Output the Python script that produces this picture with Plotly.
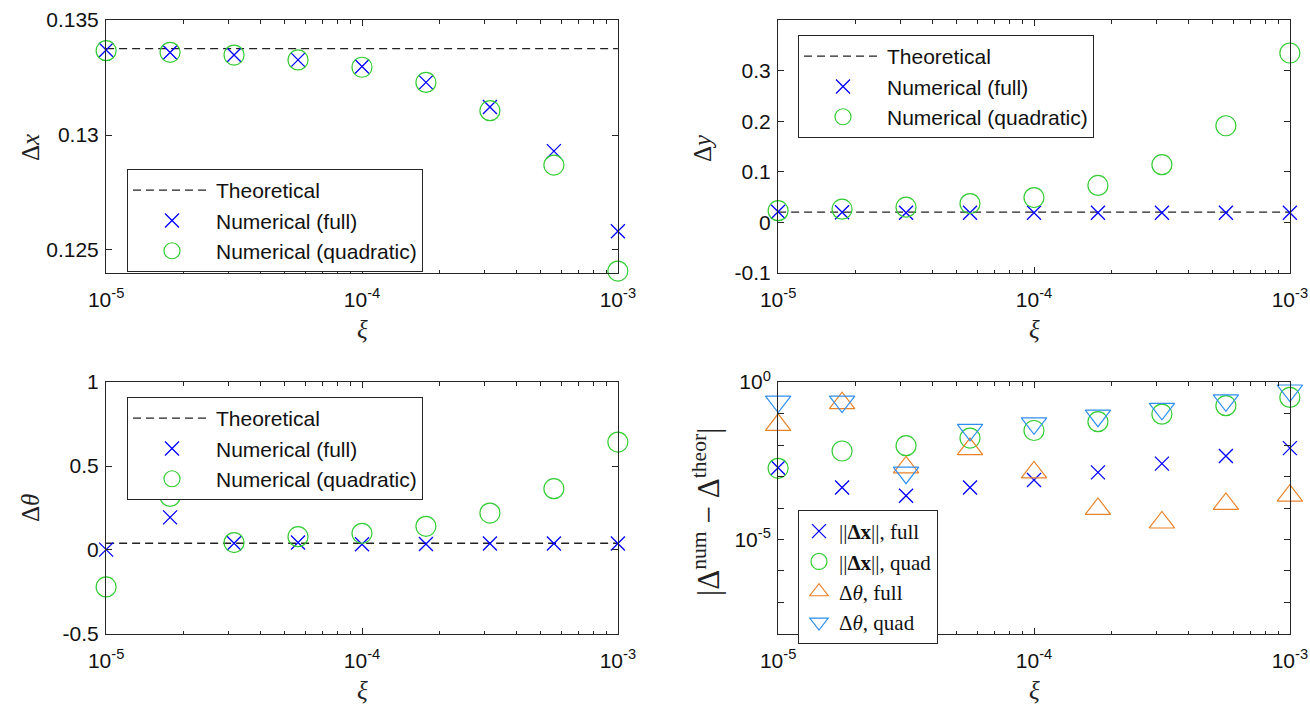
import plotly.graph_objects as go

# ---------------- data ----------------
xi = [1e-5, 1.778e-5, 3.162e-5, 5.623e-5, 1e-4, 1.778e-4, 3.162e-4, 5.623e-4, 1e-3]

theo_dx = 0.13376
dx_full = [0.13370, 0.13359, 0.13348, 0.13327, 0.13298, 0.13229, 0.13122, 0.12930, 0.12581]
dx_quad = [0.13367, 0.13360, 0.13348, 0.13327, 0.13295, 0.13229, 0.13106, 0.12869, 0.12408]

theo_dy = 0.020
dy_full = [0.021, 0.020, 0.019, 0.019, 0.019, 0.019, 0.019, 0.019, 0.019]
dy_quad = [0.023, 0.026, 0.030, 0.037, 0.049, 0.073, 0.114, 0.191, 0.335]

theo_dth = 0.040
dth_full = [0.002, 0.194, 0.040, 0.044, 0.034, 0.036, 0.038, 0.038, 0.038]
dth_quad = [-0.220, 0.319, 0.044, 0.079, 0.099, 0.141, 0.220, 0.365, 0.643]

err_x_full = [10**v for v in [-2.72, -3.35, -3.61, -3.35, -3.11, -2.87, -2.59, -2.35, -2.10]]
err_x_quad = [10**v for v in [-2.74, -2.19, -2.02, -1.78, -1.54, -1.26, -1.02, -0.75, -0.49]]
err_th_full = [10**v for v in [-1.36, -0.67, -2.71, -2.13, -2.87, -4.03, -4.46, -3.87, -3.61]]
err_th_quad = [10**v for v in [-0.62, -0.62, -2.88, -1.52, -1.31, -1.07, -0.85, -0.58, -0.27]]

x_tickvals = [1e-5, 1e-4, 1e-3]
x_ticktext = ["10<sup>-5</sup>", "10<sup>-4</sup>", "10<sup>-3</sup>"]

# ---------------- styles ----------------
W, H = 1310, 706
BLUE = "#0000FF"
GREEN = "#33CC33"
ORANGE = "#E9832B"
LBLUE = "#2E8FEF"
AX = "#262626"
TICKFONT = dict(family="Liberation Sans, Arial, sans-serif", size=21, color="#111111")
LEGFONT = dict(family="Liberation Sans, Arial, sans-serif", size=21, color="#111111")
SERIF = "Liberation Serif, DejaVu Serif, serif"

fig = go.Figure()

def px_x(a, b):
    return [a / W, b / W]

def px_y(top, bottom):
    return [1 - bottom / H, 1 - top / H]

panels = {
    1: dict(xd=px_x(106, 618), yd=px_y(20, 273)),
    2: dict(xd=px_x(778, 1290), yd=px_y(20, 273)),
    3: dict(xd=px_x(106, 618), yd=px_y(382, 634)),
    4: dict(xd=px_x(778, 1290), yd=px_y(382, 634)),
}

XMARK = dict(symbol="x-thin-open", size=14, color=BLUE, line=dict(color=BLUE, width=1.3))
OMARK = dict(symbol="circle-open", size=20, color=GREEN, line=dict(color=GREEN, width=1.2))

def add_set(k, theo, full, quad):
    leg = "legend" if k == 1 else f"legend{k}"
    xa = "x" if k == 1 else f"x{k}"
    ya = "y" if k == 1 else f"y{k}"
    fig.add_trace(go.Scatter(x=xi, y=[theo] * len(xi), mode="lines", name="Theoretical",
                             line=dict(color="#222222", width=1.3, dash="8px,5px"),
                             xaxis=xa, yaxis=ya, legend=leg, cliponaxis=False))
    fig.add_trace(go.Scatter(x=xi, y=full, mode="markers", name="Numerical (full)",
                             marker=XMARK, xaxis=xa, yaxis=ya, legend=leg, cliponaxis=False))
    fig.add_trace(go.Scatter(x=xi, y=quad, mode="markers", name="Numerical (quadratic)",
                             marker=OMARK, xaxis=xa, yaxis=ya, legend=leg, cliponaxis=False))

add_set(1, theo_dx, dx_full, dx_quad)
add_set(2, theo_dy, dy_full, dy_quad)
add_set(3, theo_dth, dth_full, dth_quad)

fig.add_trace(go.Scatter(x=xi, y=err_x_full, mode="markers", name="||<b>Δx</b>||, full",
                         marker=XMARK, xaxis="x4", yaxis="y4", legend="legend4", cliponaxis=False))
fig.add_trace(go.Scatter(x=xi, y=err_x_quad, mode="markers", name="||<b>Δx</b>||, quad",
                         marker=OMARK, xaxis="x4", yaxis="y4", legend="legend4", cliponaxis=False))
fig.add_trace(go.Scatter(x=xi, y=err_th_full, mode="markers", name="Δ<i>θ</i>, full",
                         marker=dict(symbol="triangle-up-open", size=22, color=ORANGE, line=dict(color=ORANGE, width=1.2)),
                         xaxis="x4", yaxis="y4", legend="legend4", cliponaxis=False))
fig.add_trace(go.Scatter(x=xi, y=err_th_quad, mode="markers", name="Δ<i>θ</i>, quad",
                         marker=dict(symbol="triangle-down-open", size=22, color=LBLUE, line=dict(color=LBLUE, width=1.2)),
                         xaxis="x4", yaxis="y4", legend="legend4", cliponaxis=False))

common_axis = dict(showline=True, linecolor=AX, linewidth=1, mirror="allticks",
                   ticks="inside", ticklen=6, tickcolor=AX, showgrid=False, zeroline=False,
                   tickfont=TICKFONT, automargin=False)

EPS = 0.0005
y_ranges = {1: [0.124, 0.135], 2: [-0.1, 0.4], 3: [-0.5, 1.0]}
y_ticks = {1: ([0.125, 0.13, 0.135], ["0.125", "0.13", "0.135"]),
           2: ([-0.1, 0, 0.1, 0.2, 0.3], ["-0.1", "0", "0.1", "0.2", "0.3"]),
           3: ([-0.5, 0, 0.5, 1], ["-0.5", "0", "0.5", "1"])}

layout = dict(width=W, height=H, margin=dict(l=0, r=0, t=0, b=0),
              plot_bgcolor="white", paper_bgcolor="white", showlegend=True)

for k, p in panels.items():
    xs = "xaxis" if k == 1 else f"xaxis{k}"
    ys = "yaxis" if k == 1 else f"yaxis{k}"
    anchor_x = "y" if k == 1 else f"y{k}"
    anchor_y = "x" if k == 1 else f"x{k}"
    layout[xs] = dict(common_axis, type="log", range=[-5 - EPS, -3 + EPS], domain=p["xd"], anchor=anchor_x,
                      tickmode="array", tickvals=x_tickvals, ticktext=x_ticktext, ticklabelstandoff=8,
                      minor=dict(ticks="inside", ticklen=3.5, tickcolor=AX, dtick="D1", showgrid=False))
    if k < 4:
        tv, tt = y_ticks[k]
        r = y_ranges[k]
        span = r[1] - r[0]
        layout[ys] = dict(common_axis, range=[r[0] - span * EPS, r[1] + span * EPS], domain=p["yd"],
                          anchor=anchor_y, tickmode="array", tickvals=tv, ticktext=tt, ticklabelstandoff=2)
    else:
        tv = [10.0 ** e for e in range(-8, 1)]
        tt = ["" if e not in (0, -5) else f"10<sup>{e}</sup>" for e in range(-8, 1)]
        layout[ys] = dict(common_axis, type="log", range=[-8 - EPS, 0 + EPS], domain=p["yd"], anchor=anchor_y,
                          tickmode="array", tickvals=tv, ticktext=tt, ticklabelstandoff=2)

leg_common = dict(bgcolor="white", bordercolor=AX, borderwidth=1, font=LEGFONT,
                  xanchor="left", yanchor="top", tracegroupgap=0, itemsizing="trace", itemwidth=78)
layout["legend"] = dict(leg_common, x=127 / W, y=1 - 169 / H)
layout["legend2"] = dict(leg_common, x=798 / W, y=1 - 35 / H)
layout["legend3"] = dict(leg_common, x=127 / W, y=1 - 397 / H)
layout["legend4"] = dict(leg_common, x=798 / W, y=1 - 510 / H, itemwidth=30,
                         font=dict(family=SERIF, size=21, color="#111111"))

fig.update_layout(**layout)

# axis titles
TFONT = dict(family=SERIF, size=25, color="#222222")
titles = [
    (362, 330, "<i>ξ</i>", 0, 25), (1034, 330, "<i>ξ</i>", 0, 25),
    (362, 690, "<i>ξ</i>", 0, 25), (1034, 690, "<i>ξ</i>", 0, 25),
    (30, 148, "Δ<i>x</i>", -90, 25), (702, 148, "Δ<i>y</i>", -90, 25),
    (30, 508, "Δ<i>θ</i>", -90, 25),
    (706, 512, "|Δ<sup>num</sup> − Δ<sup>theor</sup>|", -90, 31),
]
for (x, y, t, ang, sz) in titles:
    fig.add_annotation(x=x / W, y=1 - y / H, xref="paper", yref="paper", text=t,
                       showarrow=False, textangle=ang, font=dict(TFONT, size=sz),
                       xanchor="center", yanchor="middle")

fig.write_html("out.html", config={"displayModeBar": False},
               post_script="document.body.style.margin='0';document.body.style.padding='0';")
